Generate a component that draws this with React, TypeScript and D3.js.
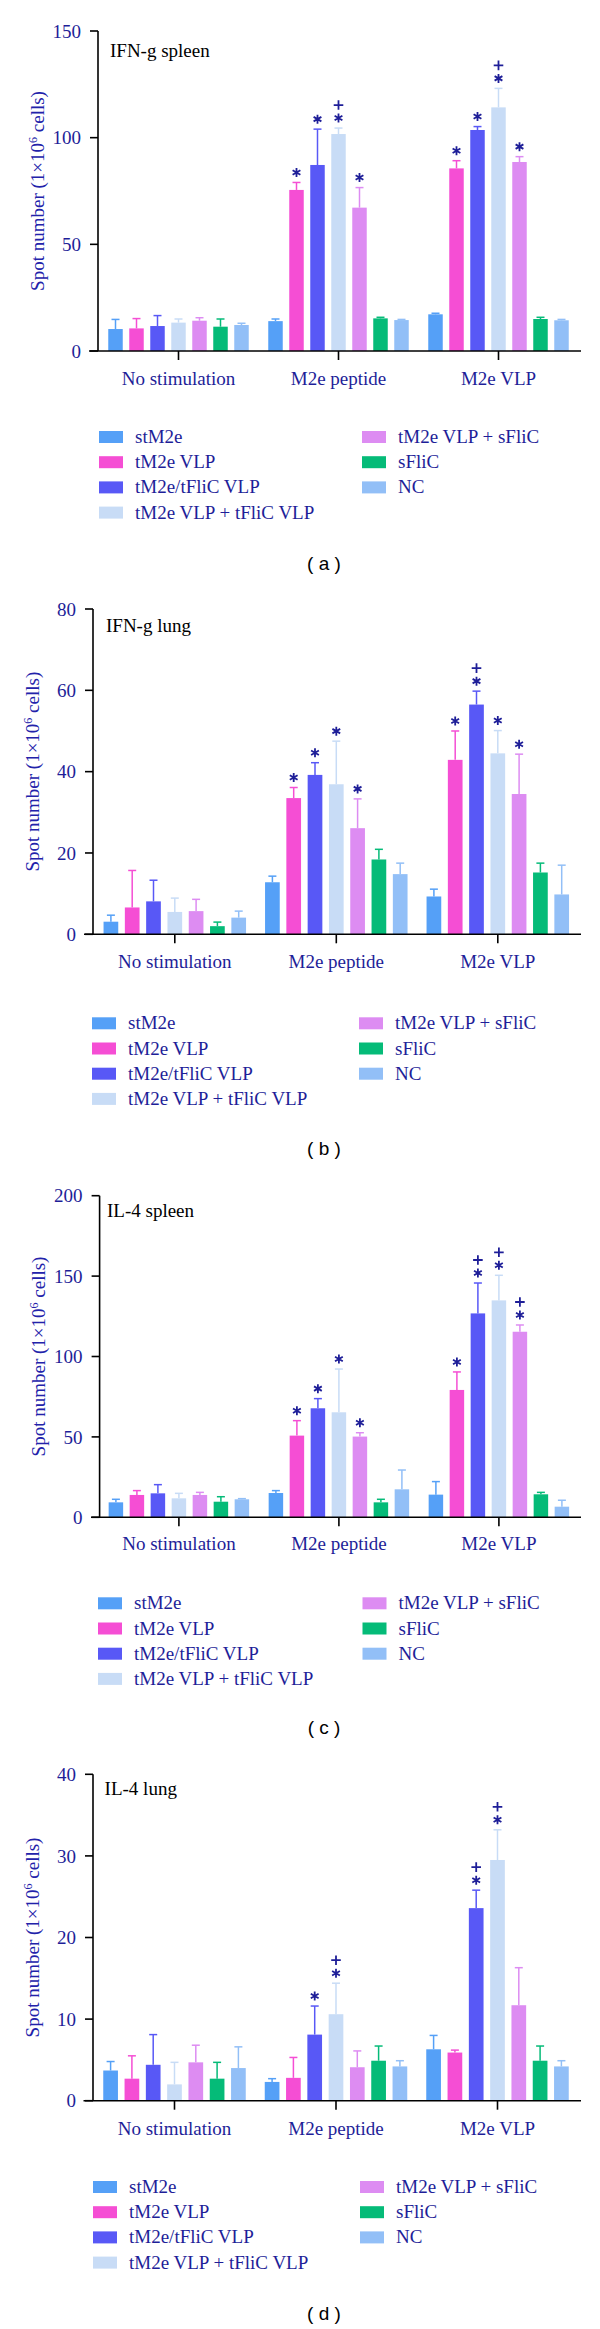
import React from "react";
import * as d3 from "d3";

const GROUPS = ["No stimulation", "M2e peptide", "M2e VLP"];
const SERIES = [
  "stM2e",
  "tM2e VLP",
  "tM2e/tFliC VLP",
  "tM2e VLP + tFliC VLP",
  "tM2e VLP + sFliC",
  "sFliC",
  "NC",
];
const COLORS = ["#55a0f7", "#f54ed4", "#5858f6", "#c8dcf6", "#dd8cf2", "#05bb78", "#92bff7"];

// (a) IFN-g spleen
const IFN_SPLEEN_MEAN = [
  [10.3, 10.6, 11.7, 13.3, 14.2, 11.4, 12.2],
  [14.0, 75.5, 87.2, 101.7, 67.2, 15.3, 14.5],
  [17.2, 85.6, 103.6, 114.2, 88.6, 15.0, 14.4],
];
const IFN_SPLEEN_SD = [
  [4.5, 4.6, 4.9, 1.7, 1.4, 3.6, 0.8],
  [1.0, 3.5, 16.8, 2.8, 9.4, 0.5, 0.3],
  [0.5, 3.6, 1.6, 8.9, 2.5, 0.8, 0.4],
];
const IFN_SPLEEN_SIG = [
  ["", "", "", "", "", "", ""],
  ["", "*", "*", "*+", "*", "", ""],
  ["", "*", "*", "*+", "*", "", ""],
];
const IFN_SPLEEN_TICKS = [0, 50, 100, 150];

// (b) IFN-g lung
const IFN_LUNG_MEAN = [
  [3.1, 6.6, 8.1, 5.5, 5.7, 2.0, 4.1],
  [12.8, 33.5, 39.2, 36.9, 26.1, 18.4, 14.8],
  [9.3, 42.9, 56.5, 44.5, 34.5, 15.2, 9.8],
];
const IFN_LUNG_SD = [
  [1.6, 9.1, 5.2, 3.4, 2.9, 1.0, 1.6],
  [1.5, 2.6, 3.0, 10.6, 7.2, 2.5, 2.7],
  [1.8, 7.1, 3.3, 5.6, 9.8, 2.3, 7.2],
];
const IFN_LUNG_SIG = [
  ["", "", "", "", "", "", ""],
  ["", "*", "*", "*", "*", "", ""],
  ["", "*", "*+", "*", "*", "", ""],
];
const IFN_LUNG_TICKS = [0, 20, 40, 60, 80];

// (c) IL-4 spleen
const IL4_SPLEEN_MEAN = [
  [9.3, 13.9, 14.9, 11.8, 13.9, 9.7, 11.2],
  [15.1, 50.8, 67.8, 65.3, 50.2, 9.3, 17.4],
  [14.1, 79.2, 126.8, 134.9, 115.4, 14.3, 6.6],
];
const IL4_SPLEEN_SD = [
  [1.9, 2.7, 5.4, 3.1, 1.6, 3.1, 0.4],
  [1.5, 9.3, 6.0, 26.9, 2.4, 1.9, 12.0],
  [8.1, 11.2, 18.9, 15.6, 4.2, 1.2, 4.0],
];
const IL4_SPLEEN_SIG = [
  ["", "", "", "", "", "", ""],
  ["", "*", "*", "*", "*", "", ""],
  ["", "*", "*+", "*+", "*+", "", ""],
];
const IL4_SPLEEN_TICKS = [0, 50, 100, 150, 200];

// (d) IL-4 lung
const IL4_LUNG_MEAN = [
  [3.7, 2.7, 4.4, 2.0, 4.7, 2.7, 4.0],
  [2.3, 2.8, 8.1, 10.6, 4.1, 4.9, 4.2],
  [6.3, 5.9, 23.6, 29.5, 11.7, 4.9, 4.2],
];
const IL4_LUNG_SD = [
  [1.1, 2.8, 3.7, 2.7, 2.1, 2.0, 2.6],
  [0.4, 2.5, 3.5, 3.8, 2.0, 1.8, 0.7],
  [1.7, 0.3, 2.2, 3.7, 4.6, 1.8, 0.7],
];
const IL4_LUNG_SIG = [
  ["", "", "", "", "", "", ""],
  ["", "", "*", "*+", "", "", ""],
  ["", "", "*+", "*+", "", "", ""],
];
const IL4_LUNG_TICKS = [0, 10, 20, 30, 40];

const NAVY = "#1e1e98";
const SERIF = '"Liberation Serif", "Times New Roman", serif';
const SANS = '"Liberation Sans", Arial, sans-serif';

type Layout = {
  axisX: number;
  xStart: number;
  xEnd: number;
  top: number;
  zero: number;
  c0: number;
  gstep: number;
  bstep: number;
  titleX: number;
  titleY: number;
  catY: number;
  legY: number;
  sw1: number;
  sw2: number;
  capY: number;
};

function starPath(r: number) {
  const p = d3.path();
  for (let k = 0; k < 3; k++) {
    const a = Math.PI / 2 + (k * Math.PI) / 3;
    p.moveTo(r * Math.cos(a), r * Math.sin(a));
    p.lineTo(-r * Math.cos(a), -r * Math.sin(a));
  }
  return p.toString();
}
function plusPath(r: number) {
  const p = d3.path();
  p.moveTo(-r, 0);
  p.lineTo(r, 0);
  p.moveTo(0, -r);
  p.lineTo(0, r);
  return p.toString();
}

function Panel(props: {
  title: string;
  caption: string;
  mean: number[][];
  sd: number[][];
  sig: string[][];
  ticks: number[];
  L: Layout;
}) {
  const { title, caption, mean, sd, sig, ticks, L } = props;
  const max = ticks[ticks.length - 1];
  const x0 = d3
    .scaleBand<string>()
    .domain(GROUPS)
    .range([L.c0 - L.gstep / 2, L.c0 - L.gstep / 2 + GROUPS.length * L.gstep]);
  const x1 = d3
    .scaleBand<string>()
    .domain(SERIES)
    .range([0, SERIES.length * L.bstep])
    .paddingInner(0.31)
    .paddingOuter(0.155);
  const y = d3.scaleLinear().domain([0, max]).range([L.zero, L.top]);
  const bw = x1.bandwidth();
  const star = starPath(4.5);
  const plus = plusPath(4.8);

  return (
    <g>
      {GROUPS.map((g, gi) => {
        const gx = (x0(g) as number) + x0.bandwidth() / 2 - (SERIES.length * L.bstep) / 2;
        return (
          <g key={g}>
            {SERIES.map((s, si) => {
              const v = mean[gi][si];
              const up = v + sd[gi][si];
              const bx = gx + (x1(s) as number);
              const cx = bx + bw / 2;
              const mk = sig[gi][si];
              const starY = y(up) - 10;
              return (
                <g key={s}>
                  <line x1={cx} x2={cx} y1={y(v)} y2={y(up)} stroke={COLORS[si]} strokeWidth={1.5} />
                  <line x1={cx - 4} x2={cx + 4} y1={y(up)} y2={y(up)} stroke={COLORS[si]} strokeWidth={1.5} />
                  <rect x={bx} y={y(v)} width={bw} height={L.zero - y(v)} fill={COLORS[si]} />
                  {mk.includes("*") && (
                    <path d={star} transform={`translate(${cx},${starY})`} stroke={NAVY} strokeWidth={1.8} fill="none" />
                  )}
                  {mk.includes("+") && (
                    <path d={plus} transform={`translate(${cx},${starY - 13})`} stroke={NAVY} strokeWidth={1.8} fill="none" />
                  )}
                </g>
              );
            })}
          </g>
        );
      })}
      <line x1={L.axisX} x2={L.axisX} y1={L.top} y2={L.zero} stroke="#000" strokeWidth={1.6} />
      <line x1={L.xStart} x2={L.xEnd} y1={L.zero} y2={L.zero} stroke="#000" strokeWidth={1.6} />
      {ticks.map((t) => (
        <g key={t}>
          <line x1={L.axisX - 8} x2={L.axisX} y1={y(t)} y2={y(t)} stroke="#000" strokeWidth={1.6} />
          <text
            x={L.axisX - 17}
            y={y(t)}
            dy="0.35em"
            textAnchor="end"
            fontFamily={SERIF}
            fontSize={19}
            fill={NAVY}
          >
            {t}
          </text>
        </g>
      ))}
      {GROUPS.map((g) => {
        const cx = (x0(g) as number) + x0.bandwidth() / 2;
        return (
          <g key={g}>
            <line x1={cx} x2={cx} y1={L.zero} y2={L.zero + 9} stroke="#000" strokeWidth={1.6} />
            <text x={cx} y={L.catY} textAnchor="middle" fontFamily={SERIF} fontSize={19} fill={NAVY}>
              {g}
            </text>
          </g>
        );
      })}
      <text x={L.titleX} y={L.titleY} fontFamily={SERIF} fontSize={19} fill="#000">
        {title}
      </text>
      <text
        transform={`translate(${L.axisX - 61},${(L.top + L.zero) / 2}) rotate(-90)`}
        textAnchor="middle"
        fontFamily={SERIF}
        fontSize={19}
        fill="#2222aa"
        dy="0.35em"
      >
        <tspan>Spot number (1×10</tspan>
        <tspan fontSize={12} dy={-7}>
          6
        </tspan>
        <tspan dy={7}> cells)</tspan>
      </text>
      {SERIES.map((s, si) => {
        const col = si < 4 ? 0 : 1;
        const row = si < 4 ? si : si - 4;
        const sx = col === 0 ? L.sw1 : L.sw2;
        const ry = L.legY + row * 25.2;
        return (
          <g key={s}>
            <rect x={sx} y={ry - 6} width={24} height={12} fill={COLORS[si]} />
            <text x={sx + 36} y={ry + 6} fontFamily={SERIF} fontSize={19} fill={NAVY}>
              {s}
            </text>
          </g>
        );
      })}
      <text x={324} y={L.capY} dy="0.35em" textAnchor="middle" fontFamily={SANS} fontSize={19} fill="#000">
        {caption}
      </text>
    </g>
  );
}

const LAYOUT_A: Layout = {
  axisX: 98, xStart: 89, xEnd: 581, top: 31, zero: 351, c0: 178.5, gstep: 160, bstep: 21,
  titleX: 110, titleY: 57, catY: 385, legY: 437, sw1: 99, sw2: 362, capY: 563,
};
const LAYOUT_B: Layout = {
  axisX: 93, xStart: 84, xEnd: 581, top: 609, zero: 934.3, c0: 174.8, gstep: 161.5, bstep: 21.3,
  titleX: 106, titleY: 632, catY: 968, legY: 1023.3, sw1: 92, sw2: 359, capY: 1148,
};
const LAYOUT_C: Layout = {
  axisX: 99.6, xStart: 91, xEnd: 581, top: 1195.7, zero: 1517.3, c0: 178.9, gstep: 160, bstep: 21,
  titleX: 107, titleY: 1217, catY: 1550, legY: 1603.3, sw1: 98, sw2: 362.5, capY: 1727,
};
const LAYOUT_D: Layout = {
  axisX: 93, xStart: 83.5, xEnd: 581, top: 1774.3, zero: 2100.7, c0: 174.5, gstep: 161.5, bstep: 21.3,
  titleX: 104.6, titleY: 1795, catY: 2135, legY: 2187, sw1: 93, sw2: 360, capY: 2313,
};

export default function App() {
  return (
    <svg
      width={600}
      height={2329}
      viewBox="0 0 600 2329"
      style={{ position: "absolute", left: 0, top: 0, background: "#fff" }}
    >
      <rect x={0} y={0} width={600} height={2329} fill="#fff" />
      <Panel title="IFN-g spleen" caption="( a )" mean={IFN_SPLEEN_MEAN} sd={IFN_SPLEEN_SD} sig={IFN_SPLEEN_SIG} ticks={IFN_SPLEEN_TICKS} L={LAYOUT_A} />
      <Panel title="IFN-g lung" caption="( b )" mean={IFN_LUNG_MEAN} sd={IFN_LUNG_SD} sig={IFN_LUNG_SIG} ticks={IFN_LUNG_TICKS} L={LAYOUT_B} />
      <Panel title="IL-4 spleen" caption="( c )" mean={IL4_SPLEEN_MEAN} sd={IL4_SPLEEN_SD} sig={IL4_SPLEEN_SIG} ticks={IL4_SPLEEN_TICKS} L={LAYOUT_C} />
      <Panel title="IL-4 lung" caption="( d )" mean={IL4_LUNG_MEAN} sd={IL4_LUNG_SD} sig={IL4_LUNG_SIG} ticks={IL4_LUNG_TICKS} L={LAYOUT_D} />
    </svg>
  );
}
